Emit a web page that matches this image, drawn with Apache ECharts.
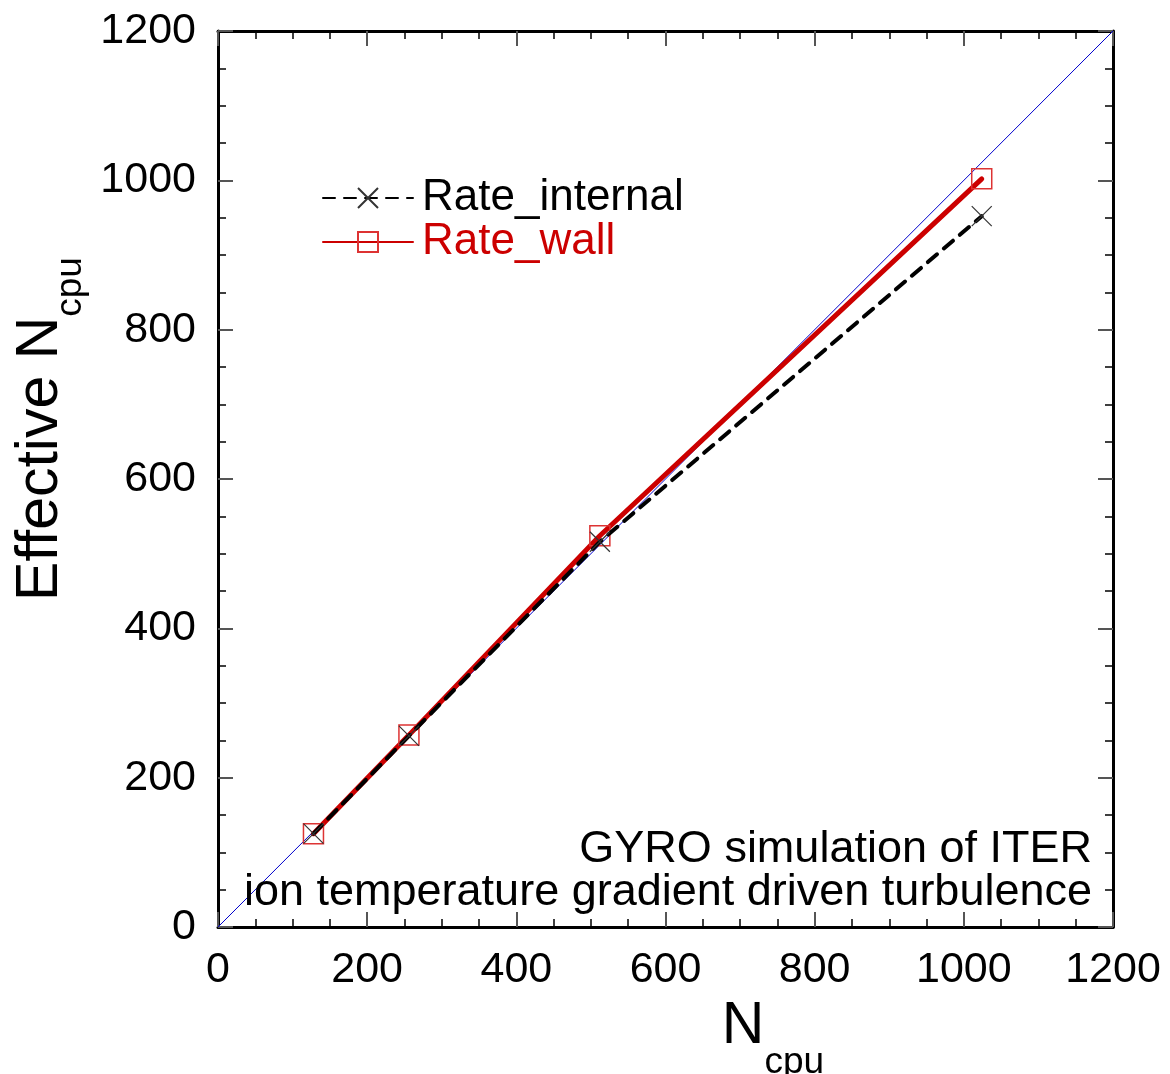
<!DOCTYPE html>
<html>
<head>
<meta charset="utf-8">
<script src="https://cdn.jsdelivr.net/npm/echarts@6/dist/echarts.min.js"></script>
<style>
html,body{margin:0;padding:0;background:#fff;}
#chart{width:1170px;height:1074px;}
</style>
</head>
<body>
<div id="chart"></div>
<script>
// ---- data ----
const nCpu = [128, 256, 512, 1024];
const rateInternal = [125, 256, 516, 952];
const rateWall = [125, 257, 524, 1002];
const idealLine = [[0, 0], [1200, 1200]];
const axisMin = 0, axisMax = 1200, axisStep = 200;
const seriesNames = ['Rate_internal', 'Rate_wall'];
const noteLines = ['GYRO simulation of ITER', 'ion temperature gradient driven turbulence'];

const FONT = 'Liberation Sans, Arial, Helvetica, sans-serif';
const RED = '#cc0000';

function pairs(xs, ys) { return xs.map((x, i) => [x, ys[i]]); }

const crossPath = 'path://M0,0L10,10M10,0L0,10';

function makeAxis(pos, showLabels) {
  return {
    type: 'value', position: pos, min: axisMin, max: axisMax, interval: axisStep,
    axisLine: { show: true, onZero: false, lineStyle: { color: '#000', width: 3 } },
    axisTick: { show: true, inside: true, length: 15, lineStyle: { color: '#555', width: 2 } },
    minorTick: { show: true, splitNumber: 4, length: 8, lineStyle: { color: '#000', width: 1.5 } },
    splitLine: { show: false },
    axisLabel: {
      show: showLabels, fontSize: 43, color: '#000', fontFamily: FONT, margin: 22,
      formatter: function (v) { return String(v); }
    }
  };
}

const xBottom = makeAxis('bottom', true);
xBottom.name = '{n|N}{s|cpu}';
xBottom.nameLocation = 'middle';
xBottom.nameGap = 49;
xBottom.nameTextStyle = {
  fontFamily: FONT, color: '#000',
  rich: {
    n: { fontSize: 59, lineHeight: 59, fontFamily: FONT, verticalAlign: 'bottom', padding: [0, 0, 25, 215] },
    s: { fontSize: 37, lineHeight: 37, fontFamily: FONT, verticalAlign: 'bottom' }
  }
};
const xTop = makeAxis('top', false);

const yLeft = makeAxis('left', true);
yLeft.name = '{n|Effective N}{s|cpu}';
yLeft.nameLocation = 'middle';
yLeft.nameGap = 106;
yLeft.nameTextStyle = {
  fontFamily: FONT, color: '#000',
  rich: {
    n: { fontSize: 59, lineHeight: 59, fontFamily: FONT, verticalAlign: 'bottom', padding: [0, 0, 19, 100] },
    s: { fontSize: 37, lineHeight: 37, fontFamily: FONT, verticalAlign: 'bottom' }
  }
};
const yRight = makeAxis('right', false);

const chart = echarts.init(document.getElementById('chart'), null, { renderer: 'canvas' });
chart.setOption({
  backgroundColor: '#fff',
  animation: false,
  grid: { left: 218, top: 31, width: 895, height: 896, containLabel: false, outerBoundsMode: 'none' },
  xAxis: [xBottom, xTop],
  yAxis: [yLeft, yRight],
  legend: {
    orient: 'vertical', left: 322, top: 176, padding: 0,
    itemWidth: 90, itemHeight: 25, itemGap: 0,
    textStyle: { fontSize: 44, lineHeight: 43, fontFamily: FONT, padding: [0, 0, 0, 4] },
    data: [
      { name: seriesNames[0], textStyle: { color: '#000' } },
      { name: seriesNames[1], textStyle: { color: RED } }
    ]
  },
  graphic: [{
    type: 'text', right: 78, top: 827, z: 100,
    style: {
      text: noteLines.join('\n'), font: '45px ' + FONT, fill: '#000',
      textAlign: 'right', lineHeight: 43
    }
  }],
  series: [
    {
      name: 'ideal', type: 'line', data: idealLine, symbol: 'none', silent: true,
      lineStyle: { color: '#0000cc', width: 1 }, z: 1
    },
    {
      name: seriesNames[1], type: 'line', data: pairs(nCpu, rateWall),
      symbol: 'rect', symbolSize: 20, showAllSymbol: true,
      lineStyle: { color: RED, width: 5, cap: 'round' },
      itemStyle: { color: 'rgba(0,0,0,0)', borderColor: '#dd3333', borderWidth: 1.5 },
      z: 2
    },
    {
      name: seriesNames[0], type: 'line', data: pairs(nCpu, rateInternal),
      symbol: crossPath, symbolSize: 20, showAllSymbol: true,
      lineStyle: { color: '#000', width: 4, type: [12, 9], cap: 'round' },
      itemStyle: { color: 'rgba(0,0,0,0)', borderColor: '#333', borderWidth: 1.2 },
      z: 3
    }
  ]
});
</script>
</body>
</html>
